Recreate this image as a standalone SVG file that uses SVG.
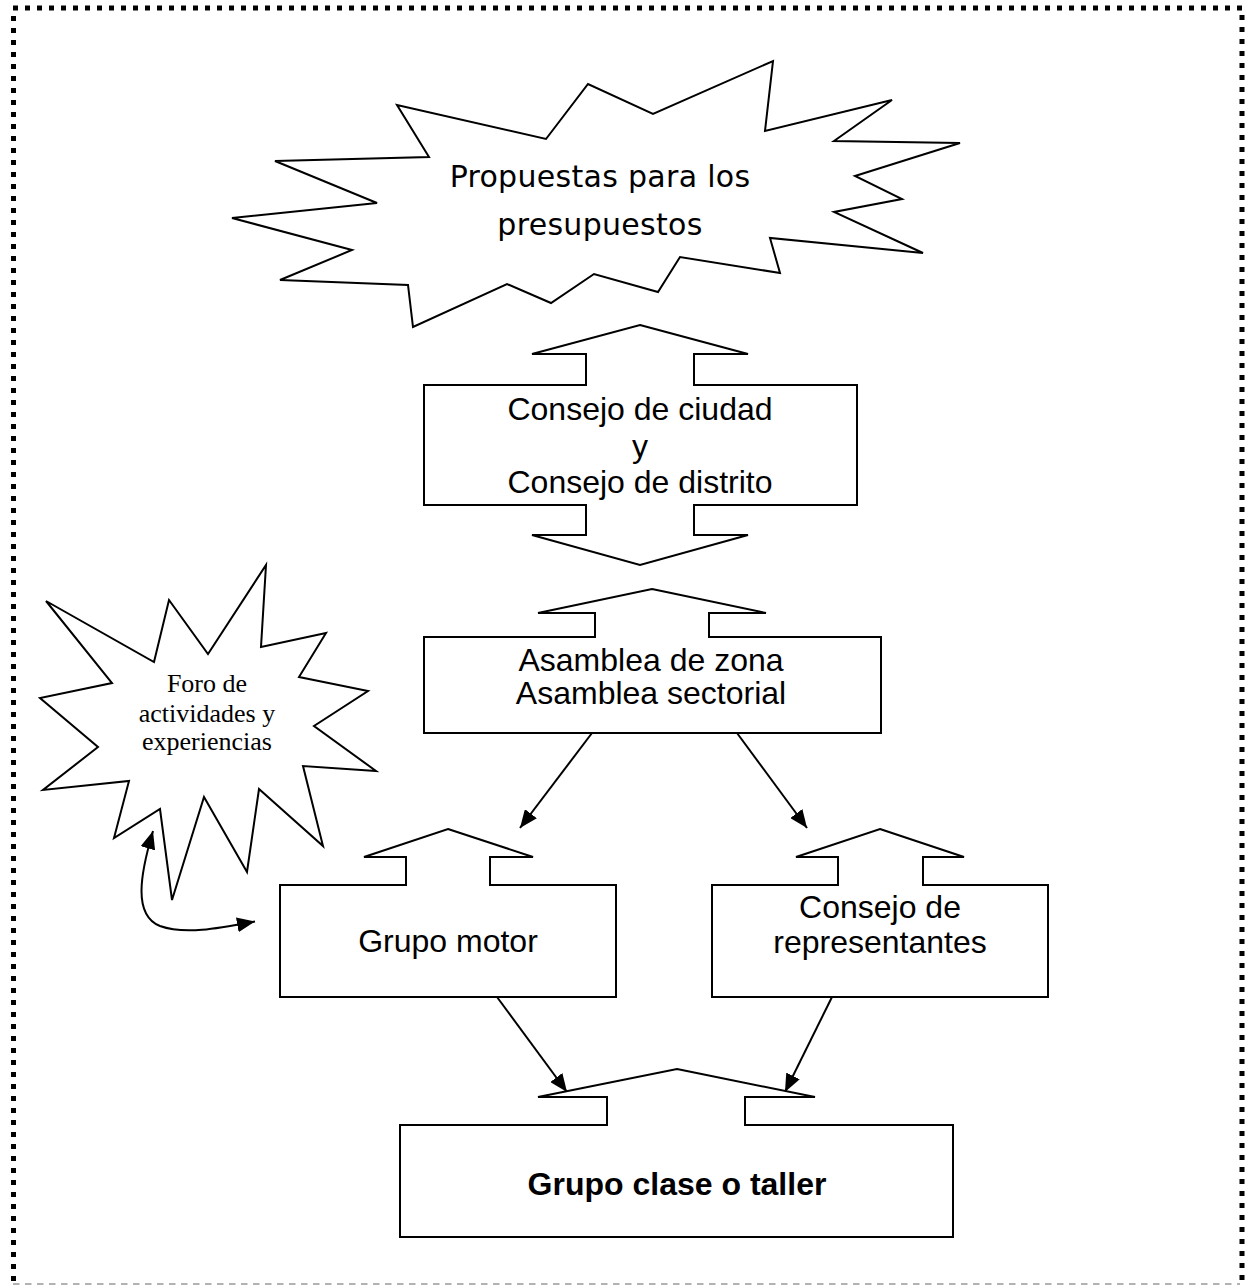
<svg xmlns="http://www.w3.org/2000/svg" width="1245" height="1285" viewBox="0 0 1245 1285">
<style>
.shape{fill:#fff;stroke:#000;stroke-width:2;stroke-linejoin:miter}
.conn{fill:none;stroke:#000;stroke-width:2}
.dot{fill:none;stroke:#000;stroke-width:5;stroke-dasharray:5 7}
.sans{font-family:"Liberation Sans",Arial,sans-serif;font-size:32px;fill:#000;text-anchor:middle}
.bold{font-weight:bold}
.serif{font-family:"Liberation Serif","Times New Roman",serif;font-size:26px;fill:#000;text-anchor:middle}
.dj{font-family:"DejaVu Sans",Verdana,sans-serif;font-size:30px;letter-spacing:0.3px;fill:#000;text-anchor:middle}
</style>
<defs>
<marker id="ah" viewBox="0 0 18 15" refX="18" refY="7.5" markerWidth="18" markerHeight="15" markerUnits="userSpaceOnUse" orient="auto-start-reverse">
<path d="M0,0 L18,7.5 L0,15 z" fill="#000"/>
</marker>
</defs>
<rect width="1245" height="1285" fill="#fff"/>
<g id="border">
<line class="dot" x1="13" y1="8" x2="1245" y2="8"/>
<line class="dot" x1="13.5" y1="16" x2="13.5" y2="1283"/>
<line class="dot" x1="1242" y1="15" x2="1242" y2="1283"/>
<line x1="13" y1="1284" x2="1240" y2="1284" stroke="#999" stroke-width="1.5" stroke-dasharray="6.5 5.5"/>
</g>
<g id="connectors">
<path class="conn" d="M592,733 L520,828" marker-end="url(#ah)"/>
<path class="conn" d="M737,733 L807,828" marker-end="url(#ah)"/>
<path class="conn" d="M497,997 L567,1092" marker-end="url(#ah)"/>
<path class="conn" d="M832,997 L785,1092" marker-end="url(#ah)"/>
<path class="conn" d="M153,831 C140,875 133,915 160,926 C185,935 220,928 255,921.5" marker-start="url(#ah)" marker-end="url(#ah)"/>
</g>
<g id="node-propuestas">
<polygon class="shape" points="232,218 352,250 280,280 408,285 413,327 507,284 551,303 594,274 658,292 680,257 780,273 770,238 923,253 834,212 902,199 855,176 960,143 834,141 892,100 765,131 773,61 653,114 588,84 546,139 397,105 429,157 275,161 377,203"/>
<text class="dj" x="600" y="187">Propuestas para los</text>
<text class="dj" x="600" y="235">presupuestos</text>
</g>
<g id="node-consejo-ciudad">
<path class="shape" d="M640,325 L748,354 L694,354 L694,385 L857,385 L857,505 L694,505 L694,535 L748,535 L640,565 L532,535 L586,535 L586,505 L424,505 L424,385 L586,385 L586,354 L532,354 Z"/>
<text class="sans" x="640" y="420">Consejo de ciudad</text>
<text class="sans" x="640" y="457">y</text>
<text class="sans" x="640" y="493">Consejo de distrito</text>
</g>
<g id="node-asamblea">
<path class="shape" d="M652,589 L766,613 L709,613 L709,637 L881,637 L881,733 L424,733 L424,637 L595,637 L595,613 L538,613 Z"/>
<text class="sans" x="651" y="671">Asamblea de zona</text>
<text class="sans" x="651" y="704">Asamblea sectorial</text>
</g>
<g id="node-foro">
<polygon class="shape" points="46,601 154,662 169,600 208,654 266,565 261,647 326,633 299,677 368,691 314,726 376,771 303,766 323,846 259,789 247,872 204,797 172,900 160,809 114,838 129,781 43,790 98,747 40,698 112,683"/>
<text class="serif" x="207" y="692">Foro de</text>
<text class="serif" x="207" y="722">actividades y</text>
<text class="serif" x="207" y="750">experiencias</text>
</g>
<g id="node-grupo-motor">
<path class="shape" d="M448,829 L533,857 L490,857 L490,885 L616,885 L616,997 L280,997 L280,885 L406,885 L406,857 L364,857 Z"/>
<text class="sans" x="448" y="952">Grupo motor</text>
</g>
<g id="node-consejo-representantes">
<path class="shape" d="M880,829 L964,857 L923,857 L923,885 L1048,885 L1048,997 L712,997 L712,885 L838,885 L838,857 L796,857 Z"/>
<text class="sans" x="880" y="918">Consejo de</text>
<text class="sans" x="880" y="953">representantes</text>
</g>
<g id="node-grupo-clase">
<path class="shape" d="M677,1069 L815,1097 L745,1097 L745,1125 L953,1125 L953,1237 L400,1237 L400,1125 L607,1125 L607,1097 L538,1097 Z"/>
<text class="sans bold" x="677" y="1195">Grupo clase o taller</text>
</g>
</svg>
